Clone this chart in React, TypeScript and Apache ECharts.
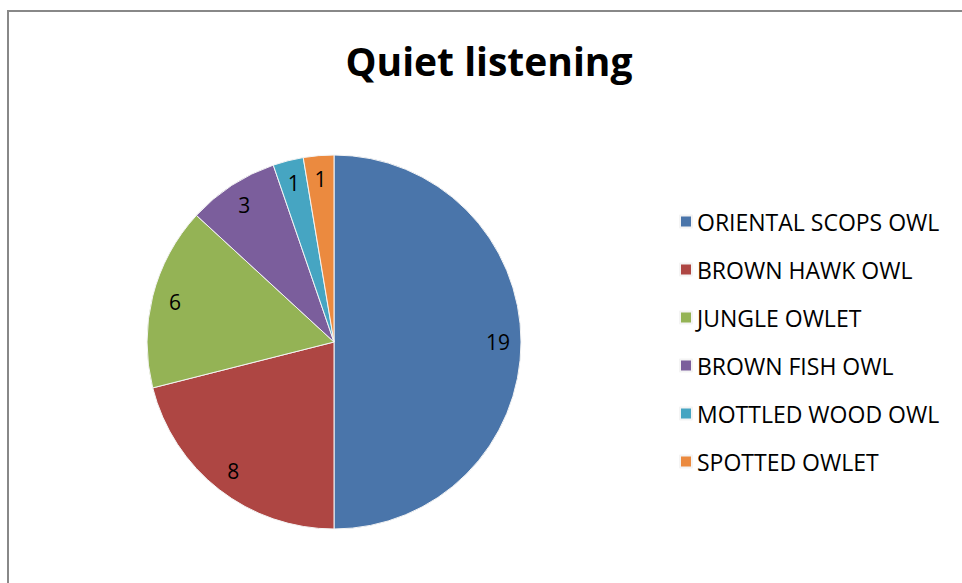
import React, { useEffect, useRef } from "react";
import * as echarts from "echarts";

const categories = [
  "ORIENTAL SCOPS OWL",
  "BROWN HAWK OWL",
  "JUNGLE OWLET",
  "BROWN FISH OWL",
  "MOTTLED WOOD OWL",
  "SPOTTED OWLET",
];
const values = [19, 8, 6, 3, 1, 1];
const colors = ["#4A75AA", "#AE4643", "#94B355", "#7B5E9C", "#46A5C2", "#EB8A3F"];

const FONT = "Open Sans";

export default function App() {
  const ref = useRef<HTMLDivElement>(null);
  useEffect(() => {
    if (!ref.current) return;
    const chart = echarts.init(ref.current, null, { renderer: "svg" });
    const data = categories.map((name, i) => ({
      name,
      value: values[i],
      itemStyle: { color: colors[i] },
    }));
    chart.setOption({
      animation: false,
      backgroundColor: "#fff",
      title: {
        text: "Quiet listening",
        left: 484,
        textAlign: "center",
        top: 36,
        textStyle: { fontFamily: FONT, fontWeight: "bold", fontSize: 39, color: "#000" },
      },
      legend: {
        orient: "vertical",
        left: 674,
        top: 205,
        icon: "rect",
        itemWidth: 12,
        itemHeight: 12,
        itemGap: 25,
        data: categories,
        selectedMode: false,
        textStyle: { fontFamily: FONT, fontSize: 23, color: "#000" },
      },
      graphic: [
        {
          type: "rect",
          shape: { x: 8, y: 11, width: 1000, height: 1000 },
          style: { fill: "none", stroke: "#888", lineWidth: 2 },
          silent: true,
        },
      ],
      series: [
        {
          type: "pie",
          center: [334, 342],
          radius: [0, 187],
          startAngle: 90,
          clockwise: true,
          data,
          label: { show: false },
          labelLine: { show: false },
          itemStyle: { borderColor: "#f4f4f4", borderWidth: 1 },
          emphasis: { disabled: true },
        },
        {
          type: "pie",
          center: [334, 342],
          radius: [135, 187],
          startAngle: 90,
          clockwise: true,
          silent: true,
          data: categories.map((name, i) => ({ name, value: values[i] })),
          itemStyle: { color: "rgba(0,0,0,0)" },
          label: {
            show: true,
            position: "inside",
            formatter: "{c}",
            fontFamily: FONT,
            fontSize: 21,
            color: "#000",
          },
          labelLine: { show: false },
          emphasis: { disabled: true },
        },
      ],
    });
    return () => chart.dispose();
  }, []);
  return (
    <div
      ref={ref}
      style={{ position: "fixed", left: 0, top: 0, width: 962, height: 583 }}
    />
  );
}
